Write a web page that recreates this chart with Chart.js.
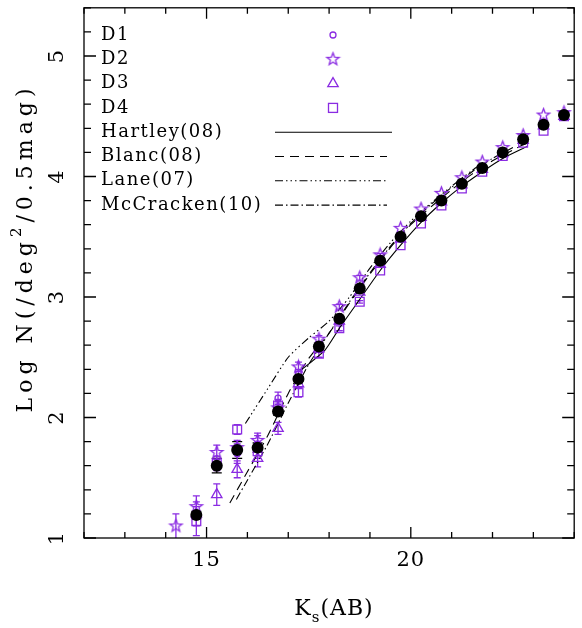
<!DOCTYPE html>
<html>
<head>
<meta charset="utf-8">
<style>
html, body { margin: 0; padding: 0; background: #fff; }
#c { display: block; }
</style>
<script src="https://cdn.jsdelivr.net/npm/chart.js@4/dist/chart.umd.min.js"></script>
</head>
<body>
<canvas id="c" width="582" height="628"></canvas>
<script>
// magnitude bins (Ks AB)
const mags = [14.25, 14.75, 15.25, 15.75, 16.25, 16.75, 17.25, 17.75, 18.25, 18.75,
              19.25, 19.75, 20.25, 20.75, 21.25, 21.75, 22.25, 22.75, 23.25, 23.75];

// combined counts (black dots)
const allLogN = [null, 1.19, 1.60, 1.73, 1.75, 2.05, 2.32, 2.59, 2.82, 3.07,
                 3.30, 3.50, 3.67, 3.80, 3.94, 4.07, 4.20, 4.31, 4.43, 4.51];
const allErr  = [null, 0.03, 0.06, 0.07, 0.04, 0.03, 0.02, 0.01, 0, 0,
                 0, 0, 0, 0, 0, 0, 0, 0, 0, 0];

// fields
const d1LogN = [null, null, null, 1.70, 1.78, 2.16, 2.36, 2.60, 2.83, 3.08,
                3.31, 3.51, 3.68, 3.81, 3.95, 4.08, 4.21, 4.32, 4.44, 4.51];
const d1Err  = [null, null, null, 0.08, 0.07, 0.05, 0.04, 0.03, 0.02, 0.01,
                0, 0, 0, 0, 0, 0, 0, 0, 0, 0];
const d2LogN = [1.10, 1.26, 1.71, 1.75, 1.81, 2.08, 2.42, 2.65, 2.92, 3.16,
                3.35, 3.57, 3.73, 3.86, 3.99, 4.12, 4.24, 4.34, 4.51, 4.53];
const d2Err  = [0.10, 0.09, 0.06, 0.06, 0.06, 0.05, 0.04, 0.03, 0.02, 0.02,
                0.01, 0, 0, 0, 0, 0, 0, 0, 0, 0];
const d3LogN = [null, 1.20, 1.36, 1.57, 1.66, 1.91, 2.28, 2.57, 2.80, 3.04,
                3.27, 3.48, 3.66, 3.79, 3.93, 4.06, 4.19, 4.30, 4.42, 4.50];
const d3Err  = [null, 0.10, 0.09, 0.07, 0.07, 0.05, 0.04, 0.03, 0.02, 0.01,
                0, 0, 0, 0, 0, 0, 0, 0, 0, 0];
const d4LogN = [null, 1.14, 1.62, 1.90, 1.72, 2.10, 2.21, 2.53, 2.74, 2.96,
                3.22, 3.43, 3.61, 3.76, 3.90, 4.04, 4.17, 4.28, 4.38, 4.50];
const d4Err  = [null, 0.12, 0.06, 0.04, 0.06, 0.05, 0.04, 0.03, 0.02, 0.01,
                0, 0, 0, 0, 0, 0, 0, 0, 0, 0];

// literature counts
const hartleyMag  = [17.3, 17.9, 18.25, 18.75, 19.25, 19.75, 20.25, 20.75, 21.25, 21.75, 22.25, 22.85];
const hartleyLogN = [2.39, 2.56, 2.74, 2.98, 3.22, 3.43, 3.62, 3.78, 3.92, 4.04, 4.15, 4.25];
const blancMag  = [15.57, 16.0, 16.5, 17.0, 17.5, 18.0, 18.5, 19.0, 19.5, 20.0, 20.5, 21.0, 21.5, 22.0, 22.5, 22.85];
const blancLogN = [1.29, 1.55, 1.85, 2.20, 2.49, 2.70, 2.95, 3.19, 3.41, 3.60, 3.75, 3.89, 4.02, 4.13, 4.22, 4.28];
const laneMag  = [15.95, 16.5, 17.0, 17.5, 18.0, 18.5, 19.0, 19.5, 20.0, 20.5, 21.0, 21.5, 21.8];
const laneLogN = [1.95, 2.24, 2.50, 2.66, 2.80, 3.00, 3.24, 3.45, 3.63, 3.78, 3.92, 4.05, 4.12];
const mccrackenMag  = [15.73, 16.0, 16.5, 17.0, 17.5, 18.0, 18.5, 19.0, 19.5, 20.0, 20.5, 21.0, 21.5, 22.0, 22.5];
const mccrackenLogN = [1.32, 1.48, 1.78, 2.12, 2.44, 2.70, 2.96, 3.20, 3.42, 3.61, 3.77, 3.91, 4.04, 4.15, 4.24];

// axes
const xMin = 12, xMax = 24, yMin = 1, yMax = 5.4;
const xTickLabels = [15, 20];
const yTickLabels = [1, 2, 3, 4, 5];

const purple = '#8a2be2';
const serif = '"DejaVu Serif", serif';

function pts(xs, ys, errs) {
    return xs.map((m, i) => ({ x: m, y: ys[i], e: errs ? errs[i] : 0 })).filter(p => p.y != null);
}

function starImage(r, color) {
    let size = Math.ceil(r * 2 + 4);
    let cv = document.createElement('canvas');
    cv.width = size; cv.height = size;
    let c = cv.getContext('2d');
    c.strokeStyle = color;
    c.lineWidth = 1.3;
    c.beginPath();
    for (let i = 0; i < 10; i++) {
        let rad = i % 2 === 0 ? r : r * 0.42;
        let a = -Math.PI / 2 + i * Math.PI / 5;
        let px = size / 2 + rad * Math.cos(a), py = size / 2 + rad * Math.sin(a);
        if (i === 0) c.moveTo(px, py); else c.lineTo(px, py);
    }
    c.closePath();
    c.stroke();
    return cv;
}
const star = starImage(6.5, purple);

// error bars under the markers
const errorBars = {
    id: 'errorBars',
    beforeDatasetsDraw(chart) {
        const { ctx, scales: { x, y } } = chart;
        chart.data.datasets.forEach(ds => {
            if (!ds.errColor) return;
            ctx.save();
            ctx.strokeStyle = ds.errColor;
            ctx.lineWidth = 1.3;
            ds.data.forEach(p => {
                if (!p.e) return;
                let px = x.getPixelForValue(p.x);
                let top = y.getPixelForValue(p.y + p.e);
                let bot = y.getPixelForValue(Math.max(p.y - p.e, yMin));
                ctx.beginPath();
                ctx.moveTo(px, top); ctx.lineTo(px, bot);
                ctx.moveTo(px - ds.cap, top); ctx.lineTo(px + ds.cap, top);
                if (p.y - p.e > yMin) { ctx.moveTo(px - ds.cap, bot); ctx.lineTo(px + ds.cap, bot); }
                ctx.stroke();
            });
            ctx.restore();
        });
    }
};

function spaced(ctx, px) { ctx.letterSpacing = px + 'px'; }

// frame, inward ticks, labels, legend
const frame = {
    id: 'frame',
    afterDraw(chart) {
        const { ctx, chartArea: a, scales: { x, y } } = chart;
        ctx.save();
        ctx.strokeStyle = '#000';
        ctx.lineWidth = 1.3;
        ctx.strokeRect(a.left, a.top, a.right - a.left, a.bottom - a.top);

        ctx.beginPath();
        for (let v = xMin; v <= xMax; v++) {
            let px = x.getPixelForValue(v);
            let len = v % 5 === 0 ? 11 : 6;
            ctx.moveTo(px, a.bottom); ctx.lineTo(px, a.bottom - len);
            ctx.moveTo(px, a.top); ctx.lineTo(px, a.top + len);
        }
        for (let k = 0; k <= 22; k++) {
            let v = yMin + k * 0.2;
            let py = y.getPixelForValue(v);
            let len = k % 5 === 0 ? 12 : 7;
            ctx.moveTo(a.left, py); ctx.lineTo(a.left + len, py);
            ctx.moveTo(a.right, py); ctx.lineTo(a.right - len, py);
        }
        ctx.stroke();

        ctx.fillStyle = '#000';
        ctx.font = '21px ' + serif;
        ctx.textAlign = 'center';
        ctx.textBaseline = 'middle';
        spaced(ctx, 1);
        xTickLabels.forEach(v => ctx.fillText(String(v), x.getPixelForValue(v), 561));
        yTickLabels.forEach(v => {
            ctx.save();
            ctx.translate(58, y.getPixelForValue(v));
            ctx.rotate(-Math.PI / 2);
            ctx.fillText(String(v), 0, 0);
            ctx.restore();
        });

        // x title: K_s(AB)
        ctx.textAlign = 'left';
        ctx.textBaseline = 'alphabetic';
        spaced(ctx, 1);
        ctx.font = '22px ' + serif;
        let wK = ctx.measureText('K').width;
        let wP = ctx.measureText('(AB)').width;
        ctx.font = '15px ' + serif;
        let wS = ctx.measureText('s').width;
        let x0 = 334 - (wK + wS + wP) / 2;
        ctx.font = '22px ' + serif;
        ctx.fillText('K', x0, 615);
        ctx.fillText('(AB)', x0 + wK + wS, 615);
        ctx.font = '15px ' + serif;
        ctx.fillText('s', x0 + wK, 622);

        // y title: Log N(/deg^2/0.5mag)
        ctx.save();
        ctx.translate(26, 248);
        ctx.rotate(-Math.PI / 2);
        ctx.textBaseline = 'middle';
        spaced(ctx, 5);
        ctx.font = '22px ' + serif;
        let t1 = 'Log N(/deg', t2 = '/0.5mag)';
        let w1 = ctx.measureText(t1).width, w2 = ctx.measureText(t2).width;
        ctx.font = '15px ' + serif;
        let w3 = ctx.measureText('2').width;
        let s0 = -(w1 + w2 + w3) / 2;
        ctx.font = '22px ' + serif;
        ctx.fillText(t1, s0, 0);
        ctx.fillText(t2, s0 + w1 + w3, 0);
        ctx.font = '15px ' + serif;
        ctx.fillText('2', s0 + w1, -9);
        ctx.restore();

        // legend
        ctx.font = '18px ' + serif;
        spaced(ctx, 1.5);
        ctx.textBaseline = 'middle';
        const rows = ['D1', 'D2', 'D3', 'D4', 'Hartley(08)', 'Blanc(08)', 'Lane(07)', 'McCracken(10)'];
        const dashes = [[], [9, 6], [8, 3, 1.5, 3, 1.5, 3, 1.5, 3], [8, 3, 1.5, 3]];
        const symX = 333;
        rows.forEach((t, i) => {
            let ry = 35 + i * 24.3;
            ctx.fillStyle = '#000';
            ctx.fillText(t, 101, ry);
            ctx.strokeStyle = purple;
            ctx.lineWidth = 1.3;
            ctx.setLineDash([]);
            if (i === 0) {
                ctx.beginPath(); ctx.arc(symX, ry, 3, 0, Math.PI * 2); ctx.stroke();
            } else if (i === 1) {
                ctx.drawImage(star, symX - star.width / 2, ry - star.height / 2);
            } else if (i === 2) {
                let r = 6;
                ctx.beginPath();
                ctx.moveTo(symX, ry - r);
                ctx.lineTo(symX + r * 0.866, ry + r / 2);
                ctx.lineTo(symX - r * 0.866, ry + r / 2);
                ctx.closePath(); ctx.stroke();
            } else if (i === 3) {
                ctx.strokeRect(symX - 4.5, ry - 4.5, 9, 9);
            } else {
                ctx.strokeStyle = '#000';
                ctx.lineWidth = 1.1;
                ctx.setLineDash(dashes[i - 4]);
                ctx.beginPath();
                ctx.moveTo(275, ry); ctx.lineTo(i === 4 ? 392 : 387, ry);
                ctx.stroke();
            }
        });
        ctx.restore();
    }
};

function markerSet(label, ys, errs, style, radius) {
    return {
        label: label,
        data: pts(mags, ys, errs),
        pointStyle: style,
        pointRadius: radius,
        pointBorderWidth: 1.3,
        borderColor: purple,
        backgroundColor: 'rgba(0,0,0,0)',
        showLine: false,
        errColor: purple,
        cap: 3.5
    };
}

function lineSet(label, xs, ys, dash) {
    return {
        label: label,
        data: pts(xs, ys),
        showLine: true,
        borderColor: '#000',
        borderWidth: 1.1,
        borderDash: dash,
        pointRadius: 0,
        tension: 0.2
    };
}

let mainChart = new Chart(document.getElementById('c'), {
    type: 'scatter',
    data: {
        datasets: [
            {
                label: 'All',
                data: pts(mags, allLogN, allErr),
                pointStyle: 'circle',
                pointRadius: 6,
                pointBorderWidth: 0,
                backgroundColor: '#000',
                borderColor: '#000',
                showLine: false,
                errColor: '#000',
                cap: 5
            },
            markerSet('D1', d1LogN, d1Err, 'circle', 3),
            markerSet('D2', d2LogN, d2Err, star, 6.5),
            markerSet('D3', d3LogN, d3Err, 'triangle', 6),
            markerSet('D4', d4LogN, d4Err, 'rect', 6.2),
            lineSet('Hartley(08)', hartleyMag, hartleyLogN, []),
            lineSet('Blanc(08)', blancMag, blancLogN, [9, 6]),
            lineSet('Lane(07)', laneMag, laneLogN, [8, 3, 1.5, 3, 1.5, 3, 1.5, 3]),
            lineSet('McCracken(10)', mccrackenMag, mccrackenLogN, [8, 3, 1.5, 3])
        ]
    },
    options: {
        responsive: false,
        animation: false,
        devicePixelRatio: 1,
        layout: { padding: { left: 84, right: 2, top: 5, bottom: 90 } },
        plugins: { legend: { display: false }, tooltip: { enabled: false } },
        scales: {
            x: { type: 'linear', min: xMin, max: xMax, display: false },
            y: { type: 'linear', min: yMin, max: yMax, display: false }
        }
    },
    plugins: [errorBars, frame]
});
</script>
</body>
</html>
